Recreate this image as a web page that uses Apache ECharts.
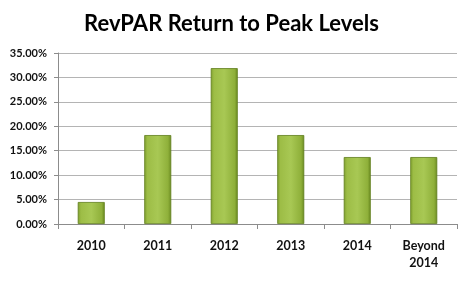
<!DOCTYPE html>
<html><head><meta charset="utf-8">
<script src="https://cdn.jsdelivr.net/npm/echarts@6/dist/echarts.min.js"></script>
<style>html,body{margin:0;padding:0;background:#fff}#c{width:463px;height:283px}</style>
</head><body><div id="c"></div>
<script>
var categories = ['2010', '2011', '2012', '2013', '2014', 'Beyond\n2014'];
var values = [4.5, 18.2, 31.9, 18.2, 13.7, 13.7];
var titleText = 'RevPAR Return to Peak Levels';

var chart = echarts.init(document.getElementById('c'), null, {renderer: 'canvas'});
chart.setOption({
  animation: false,
  title: {
    text: titleText, left: 'center', top: 8,
    textStyle: {fontFamily: 'Lato', fontWeight: 'bold', fontSize: 22, color: '#000'}
  },
  grid: {left: 58, right: 6, top: 53, bottom: 59, containLabel: false},
  xAxis: {
    type: 'category', data: categories,
    axisLine: {lineStyle: {color: '#8c8c8c', width: 1}},
    axisTick: {show: true, length: 5, lineStyle: {color: '#8c8c8c'}},
    axisLabel: {margin: 13, fontFamily: 'Lato', fontWeight: 'bold', fontSize: 12.5, color: '#111', lineHeight: 17}
  },
  yAxis: {
    type: 'value', min: 0, max: 35, interval: 5,
    axisLine: {show: true, lineStyle: {color: '#8c8c8c', width: 1}},
    axisTick: {show: true, length: 4, lineStyle: {color: '#8c8c8c'}},
    splitLine: {lineStyle: {color: '#b4b4b4', width: 1}},
    axisLabel: {margin: 11, fontFamily: 'Lato', fontWeight: 'bold', fontSize: 11, color: '#111',
      formatter: function (v) { return v.toFixed(2) + '%'; }}
  },
  series: [{
    type: 'bar', data: values, barWidth: 27,
    itemStyle: {
      borderColor: '#5f7d1c', borderWidth: 0.8,
      color: new echarts.graphic.LinearGradient(0, 0, 1, 0, [
        {offset: 0, color: '#7f9f2e'},
        {offset: 0.12, color: '#9dbd46'},
        {offset: 0.5, color: '#a8c854'},
        {offset: 0.88, color: '#8fb03a'},
        {offset: 1, color: '#6a8a20'}
      ])
    }
  }]
});
</script></body></html>
